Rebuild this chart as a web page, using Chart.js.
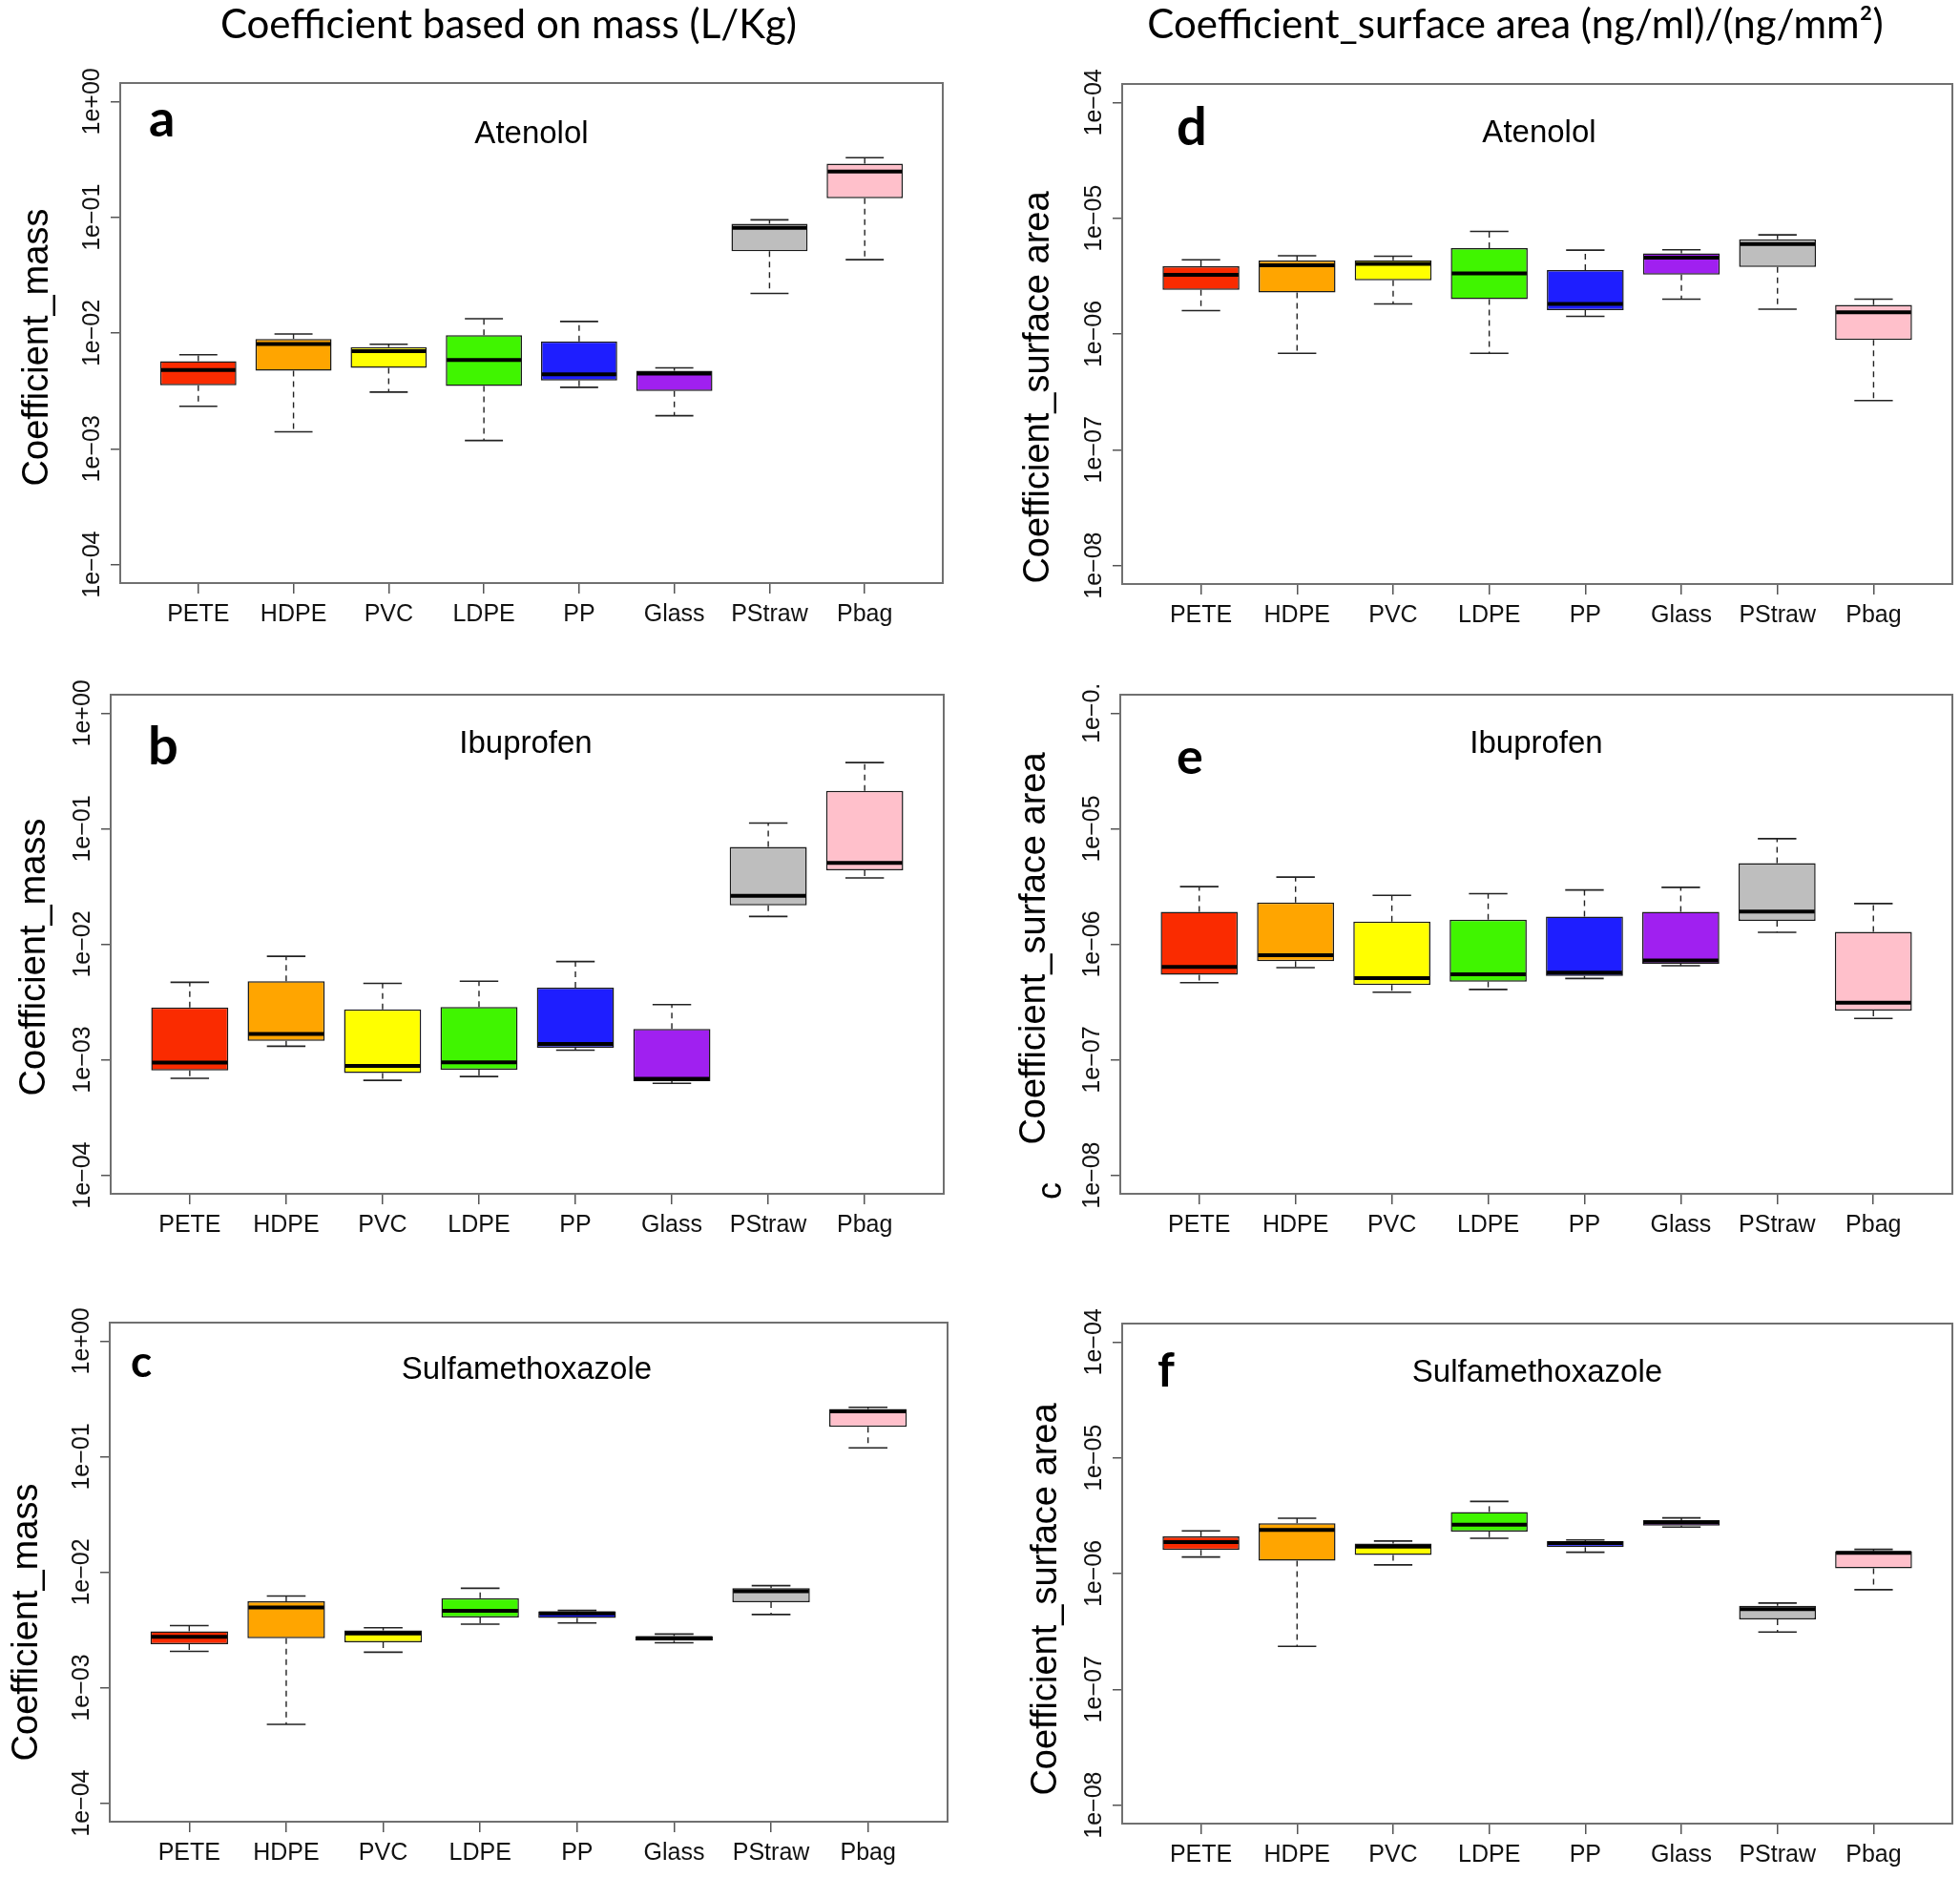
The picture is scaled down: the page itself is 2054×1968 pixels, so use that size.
<!DOCTYPE html>
<html>
<head>
<meta charset="utf-8">
<script src="https://cdn.jsdelivr.net/npm/chart.js@4.4.1/dist/chart.umd.min.js"></script>
<style>
  html, body { margin: 0; padding: 0; background: #fff; }
  #page { position: relative; width: 2054px; height: 1968px; overflow: hidden; background: #fff; }
  #page canvas { position: absolute; }
</style>
</head>
<body>
<div id="page"></div>
<script>
const categories = ['PETE', 'HDPE', 'PVC', 'LDPE', 'PP', 'Glass', 'PStraw', 'Pbag'];
const boxColors = ['#fa2b00', '#ffa500', '#ffff00', '#40f500', '#1e1eff', '#a020f0', '#bebebe', '#ffc0cb'];

const massTicks = [1, 1e-1, 1e-2, 1e-3, 1e-4];
const massTickLabels = ['1e+00', '1e\u221201', '1e\u221202', '1e\u221203', '1e\u221204'];
const surfaceTicks = [1e-4, 1e-5, 1e-6, 1e-7, 1e-8];
const surfaceTickLabels = ['1e\u221204', '1e\u221205', '1e\u221206', '1e\u221207', '1e\u221208'];
const surfaceTickLabelsClipped = ['1e\u22120.', '1e\u221205', '1e\u221206', '1e\u221207', '1e\u221208'];

// each row: [lower whisker, Q1, median, Q3, upper whisker], one row per category
const atenololMass = [
  [2.33e-3, 3.54e-3, 4.8e-3, 5.7e-3, 6.5e-3],
  [1.40e-3, 4.72e-3, 8.05e-3, 8.9e-3, 9.8e-3],
  [3.09e-3, 4.99e-3, 6.98e-3, 7.56e-3, 8.0e-3],
  [1.18e-3, 3.48e-3, 5.85e-3, 9.6e-3, 1.33e-2],
  [3.40e-3, 3.89e-3, 4.39e-3, 8.45e-3, 1.26e-2],
  [1.93e-3, 3.16e-3, 4.46e-3, 4.72e-3, 5.0e-3],
  [2.2e-2, 5.1e-2, 8.1e-2, 8.8e-2, 9.5e-2],
  [4.3e-2, 0.146, 0.249, 0.29, 0.327]
];
const ibuprofenMass = [
  [6.9e-4, 8.07e-4, 9.46e-4, 2.83e-3, 4.68e-3],
  [1.31e-3, 1.46e-3, 1.67e-3, 4.79e-3, 7.87e-3],
  [6.64e-4, 7.66e-4, 8.84e-4, 2.73e-3, 4.58e-3],
  [7.16e-4, 8.2e-4, 9.52e-4, 2.87e-3, 4.79e-3],
  [1.21e-3, 1.27e-3, 1.37e-3, 4.21e-3, 7.08e-3],
  [6.25e-4, 6.54e-4, 6.85e-4, 1.85e-3, 3.0e-3],
  [1.74e-2, 2.17e-2, 2.62e-2, 6.95e-2, 0.112],
  [3.75e-2, 4.36e-2, 5.07e-2, 0.213, 0.374]
];
const sulfaMass = [
  [2.06e-3, 2.38e-3, 2.76e-3, 3.08e-3, 3.45e-3],
  [4.81e-4, 2.68e-3, 4.94e-3, 5.61e-3, 6.21e-3],
  [2.03e-3, 2.47e-3, 2.95e-3, 3.13e-3, 3.30e-3],
  [3.55e-3, 4.05e-3, 4.63e-3, 5.95e-3, 7.26e-3],
  [3.63e-3, 4.02e-3, 4.40e-3, 4.59e-3, 4.66e-3],
  [2.45e-3, 2.55e-3, 2.68e-3, 2.80e-3, 2.91e-3],
  [4.30e-3, 5.48e-3, 6.84e-3, 7.26e-3, 7.64e-3],
  [0.119, 0.181, 0.246, 0.258, 0.267]
];
const atenololSurface = [
  [1.59e-6, 2.41e-6, 3.24e-6, 3.85e-6, 4.38e-6],
  [6.8e-7, 2.28e-6, 3.92e-6, 4.31e-6, 4.74e-6],
  [1.82e-6, 2.91e-6, 4.04e-6, 4.34e-6, 4.70e-6],
  [6.8e-7, 2.0e-6, 3.34e-6, 5.52e-6, 7.7e-6],
  [1.42e-6, 1.61e-6, 1.82e-6, 3.56e-6, 5.3e-6],
  [2.0e-6, 3.26e-6, 4.56e-6, 4.97e-6, 5.34e-6],
  [1.64e-6, 3.79e-6, 5.98e-6, 6.58e-6, 7.18e-6],
  [2.66e-7, 8.87e-7, 1.54e-6, 1.78e-6, 2.0e-6]
];
const ibuprofenSurface = [
  [4.65e-7, 5.44e-7, 6.37e-7, 1.91e-6, 3.15e-6],
  [6.28e-7, 7.13e-7, 8.04e-7, 2.30e-6, 3.81e-6],
  [3.85e-7, 4.44e-7, 5.08e-7, 1.57e-6, 2.65e-6],
  [4.06e-7, 4.75e-7, 5.48e-7, 1.63e-6, 2.74e-6],
  [5.05e-7, 5.32e-7, 5.69e-7, 1.74e-6, 2.95e-6],
  [6.51e-7, 6.77e-7, 7.24e-7, 1.91e-6, 3.11e-6],
  [1.27e-6, 1.59e-6, 1.92e-6, 5.03e-6, 8.2e-6],
  [2.28e-7, 2.67e-7, 3.12e-7, 1.28e-6, 2.25e-6]
];
const sulfaSurface = [
  [1.39e-6, 1.60e-6, 1.87e-6, 2.10e-6, 2.34e-6],
  [2.35e-7, 1.29e-6, 2.38e-6, 2.72e-6, 3.01e-6],
  [1.19e-6, 1.45e-6, 1.71e-6, 1.82e-6, 1.91e-6],
  [2.02e-6, 2.31e-6, 2.65e-6, 3.41e-6, 4.20e-6],
  [1.53e-6, 1.69e-6, 1.84e-6, 1.91e-6, 1.95e-6],
  [2.52e-6, 2.60e-6, 2.78e-6, 2.90e-6, 3.03e-6],
  [3.13e-7, 4.02e-7, 4.94e-7, 5.28e-7, 5.56e-7],
  [7.26e-7, 1.11e-6, 1.51e-6, 1.56e-6, 1.62e-6]
];

const SANS = '"Liberation Sans", Arial, sans-serif';
const HEAD = 'Lato, "Open Sans", sans-serif';

// layout: page coords. canvas = [x, y, w, h], box = [left, top, right, bottom]
const panels = [
  { data: atenololMass, ticks: massTicks, tickLabels: massTickLabels, range: [-4.16, 0.16],
    canvas: [0, 0, 1030, 680], box: [126, 87, 988, 611],
    yTitle: 'Coefficient_mass', yTitleAt: [50, 364], letter: 'a', letterAt: [156, 143], letterSize: 54,
    name: 'Atenolol', nameAt: [557, 150], header: 'Coefficient based on mass (L/Kg)', headerAt: [533, 40] },
  { data: ibuprofenMass, ticks: massTicks, tickLabels: massTickLabels, range: [-4.16, 0.16],
    canvas: [0, 680, 1030, 650], box: [116, 728, 989, 1251],
    yTitle: 'Coefficient_mass', yTitleAt: [47, 1003], letter: 'b', letterAt: [155, 801], letterSize: 56,
    name: 'Ibuprofen', nameAt: [551, 789] },
  { data: sulfaMass, ticks: massTicks, tickLabels: massTickLabels, range: [-4.16, 0.16],
    canvas: [0, 1330, 1030, 638], box: [115, 1386, 993, 1909],
    yTitle: 'Coefficient_mass', yTitleAt: [39, 1700], letter: 'c', letterAt: [137, 1443], letterSize: 46,
    name: 'Sulfamethoxazole', nameAt: [552, 1445] },
  { data: atenololSurface, ticks: surfaceTicks, tickLabels: surfaceTickLabels, range: [-8.16, -3.84],
    canvas: [1030, 0, 1024, 680], box: [1176, 88, 2046, 612],
    yTitle: 'Coefficient_surface area', yTitleAt: [1099, 406], letter: 'd', letterAt: [1233, 152], letterSize: 56,
    name: 'Atenolol', nameAt: [1613, 149], header: 'Coefficient_surface area (ng/ml)/(ng/mm\u00b2)', headerAt: [1588, 40] },
  { data: ibuprofenSurface, ticks: surfaceTicks, tickLabels: surfaceTickLabelsClipped, range: [-8.16, -3.84],
    canvas: [1030, 680, 1024, 650], box: [1174, 728, 2046, 1251],
    yTitle: 'Coefficient_surface area', yTitleAt: [1095, 994], letter: 'e', letterAt: [1233, 811], letterSize: 52,
    name: 'Ibuprofen', nameAt: [1610, 789], stray: 'c', strayAt: [1112, 1248] },
  { data: sulfaSurface, ticks: surfaceTicks, tickLabels: surfaceTickLabels, range: [-8.16, -3.84],
    canvas: [1030, 1330, 1024, 638], box: [1176, 1387, 2046, 1911],
    yTitle: 'Coefficient_surface area', yTitleAt: [1107, 1676], letter: 'f', letterAt: [1213, 1453], letterSize: 50,
    name: 'Sulfamethoxazole', nameAt: [1611, 1448] }
];

const Y_AXIS_W = 60;
const X_AXIS_H = 50;

function strokeLine(ctx, x1, y1, x2, y2) {
  ctx.beginPath();
  ctx.moveTo(x1, y1);
  ctx.lineTo(x2, y2);
  ctx.stroke();
}

function rotatedText(ctx, text, x, y, font) {
  ctx.save();
  ctx.translate(x, y);
  ctx.rotate(-Math.PI / 2);
  ctx.font = font;
  ctx.textAlign = 'center';
  ctx.textBaseline = 'alphabetic';
  ctx.fillText(text, 0, 0);
  ctx.restore();
}

// whiskers, medians, frame and panel texts
function boxplotDecor(p) {
  const ox = p.canvas[0], oy = p.canvas[1];
  return {
    id: 'boxplotDecor',
    afterDatasetsDraw(chart) {
      const ctx = chart.ctx;
      const ys = chart.scales.y;
      const bars = chart.getDatasetMeta(0).data;
      ctx.save();
      p.data.forEach((s, i) => {
        const x = bars[i].x, w = bars[i].width;
        const [lo, q1, med, q3, hi] = s.map(v => ys.getPixelForValue(v));
        ctx.strokeStyle = '#222';
        ctx.lineWidth = 1.4;
        ctx.setLineDash([6, 5]);
        strokeLine(ctx, x, q3, x, hi);
        strokeLine(ctx, x, q1, x, lo);
        ctx.setLineDash([]);
        ctx.lineWidth = 1.6;
        strokeLine(ctx, x - w / 4, hi, x + w / 4, hi);
        strokeLine(ctx, x - w / 4, lo, x + w / 4, lo);
        ctx.strokeStyle = '#000';
        ctx.lineWidth = 4;
        strokeLine(ctx, x - w / 2 + 1, med, x + w / 2 - 1, med);
      });
      ctx.restore();
    },
    afterDraw(chart) {
      const ctx = chart.ctx;
      const a = chart.chartArea;
      ctx.save();
      ctx.strokeStyle = '#707070';
      ctx.lineWidth = 2;
      ctx.strokeRect(a.left, a.top, a.right - a.left, a.bottom - a.top);

      ctx.fillStyle = '#000';
      rotatedText(ctx, p.yTitle, p.yTitleAt[0] - ox, p.yTitleAt[1] - oy, '38px ' + SANS);
      if (p.stray) rotatedText(ctx, p.stray, p.strayAt[0] - ox, p.strayAt[1] - oy, '36px ' + SANS);

      ctx.textBaseline = 'alphabetic';
      ctx.textAlign = 'left';
      ctx.font = 'bold ' + p.letterSize + 'px ' + HEAD;
      ctx.fillText(p.letter, p.letterAt[0] - ox, p.letterAt[1] - oy);

      ctx.textAlign = 'center';
      ctx.font = '33px ' + SANS;
      ctx.fillText(p.name, p.nameAt[0] - ox, p.nameAt[1] - oy);

      if (p.header) {
        ctx.font = '42px ' + HEAD;
        ctx.fillText(p.header, p.headerAt[0] - ox, p.headerAt[1] - oy);
      }
      ctx.restore();
    }
  };
}

function buildPanel(p) {
  const [cx, cy, cw, ch] = p.canvas;
  const [L, T, R, B] = p.box;
  const canvas = document.createElement('canvas');
  canvas.width = cw;
  canvas.height = ch;
  canvas.style.left = cx + 'px';
  canvas.style.top = cy + 'px';
  canvas.style.width = cw + 'px';
  canvas.style.height = ch + 'px';
  document.getElementById('page').appendChild(canvas);

  return new Chart(canvas, {
    type: 'bar',
    data: {
      datasets: [{
        data: p.data.map((s, i) => ({ x: i + 1, y: [s[1], s[3]] })),
        backgroundColor: boxColors,
        borderColor: '#1a1a1a',
        borderWidth: 1.5,
        borderSkipped: false,
        categoryPercentage: 0.8,
        barPercentage: 1.0
      }]
    },
    options: {
      responsive: false,
      animation: false,
      events: [],
      devicePixelRatio: 1,
      layout: {
        padding: { left: L - cx - Y_AXIS_W, right: cx + cw - R, top: T - cy, bottom: cy + ch - B - X_AXIS_H }
      },
      plugins: {
        legend: { display: false },
        tooltip: { enabled: false }
      },
      scales: {
        x: {
          type: 'linear',
          bounds: 'data',
          offset: false,
          min: 0.18,
          max: 8.82,
          afterBuildTicks: s => { s.ticks = categories.map((c, i) => ({ value: i + 1 })); },
          afterFit: s => { s.height = X_AXIS_H; },
          ticks: {
            autoSkip: false,
            maxRotation: 0,
            minRotation: 0,
            padding: 7,
            color: '#111',
            font: { family: SANS, size: 25 },
            callback: (v, i) => categories[i]
          },
          grid: { offset: false, drawOnChartArea: false, tickLength: 11, color: '#555', lineWidth: 1.5 },
          border: { display: false }
        },
        y: {
          type: 'logarithmic',
          bounds: 'data',
          beginAtZero: false,
          min: Math.pow(10, p.range[0]),
          max: Math.pow(10, p.range[1]),
          afterBuildTicks: s => { s.ticks = p.ticks.map(v => ({ value: v })); },
          afterFit: s => { s.width = Y_AXIS_W; },
          ticks: {
            minRotation: 90,
            maxRotation: 90,
            crossAlign: 'center',
            padding: -16,
            color: '#111',
            font: { family: SANS, size: 25 },
            callback: (v, i) => p.tickLabels[i]
          },
          grid: { drawOnChartArea: false, tickLength: 10, color: '#555', lineWidth: 1.5 },
          border: { display: false }
        }
      }
    },
    plugins: [boxplotDecor(p)]
  });
}

const fontLoads = [
  document.fonts.load('25px "Liberation Sans"'),
  document.fonts.load('42px Lato'),
  document.fonts.load('bold 54px Lato')
];
Promise.all(fontLoads).catch(() => {}).then(() => {
  panels.forEach(buildPanel);
});
</script>
</body>
</html>
